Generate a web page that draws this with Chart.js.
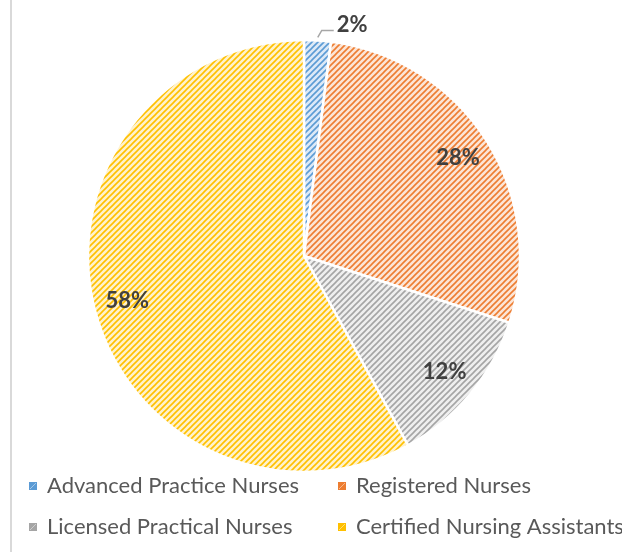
<!DOCTYPE html>
<html>
<head>
<meta charset="utf-8">
<script src="https://cdn.jsdelivr.net/npm/chart.js@4.4.1/dist/chart.umd.min.js"></script>
<style>
  html, body { margin: 0; padding: 0; background: #fff; }
  #wrap { position: relative; width: 622px; height: 552px; }
  #edge { position: absolute; left: 10px; top: 0; width: 2px; height: 552px; background: #d9d9d9; }
  canvas { position: absolute; left: 0; top: 0; }
</style>
</head>
<body>
<div id="wrap">
  <div id="edge"></div>
  <canvas id="pie" width="622" height="552"></canvas>
</div>
<script>
// Datos del gráfico
const categories = ['Advanced Practice Nurses', 'Registered Nurses', 'Licensed Practical Nurses', 'Certified Nursing Assistants'];
const shares = [2, 28, 12, 58];
const lineColors = ['#5b9bd5', '#ed7d31', '#a5a5a5', '#ffc000'];
const tintColors = ['#dde9f6', '#fce5d6', '#efefef', '#fff2cc'];

const ctx = document.getElementById('pie').getContext('2d');

// Trama de rayas diagonales (estilo Excel)
function hatch(line, tint) {
  const c = document.createElement('canvas');
  c.width = 6; c.height = 6;
  const g = c.getContext('2d');
  g.fillStyle = tint;
  g.fillRect(0, 0, 6, 6);
  g.strokeStyle = line;
  g.lineWidth = 1.6;
  g.beginPath();
  g.moveTo(-1, 7); g.lineTo(7, -1);
  g.moveTo(-1, 1); g.lineTo(1, -1);
  g.moveTo(5, 7); g.lineTo(7, 5);
  g.stroke();
  return ctx.createPattern(c, 'repeat');
}
const fills = lineColors.map((c, i) => hatch(c, tintColors[i]));

// Etiquetas de porcentaje sobre cada porción
const sliceLabels = {
  id: 'sliceLabels',
  afterDatasetsDraw(chart) {
    const c = chart.ctx;
    const arcs = chart.getDatasetMeta(0).data;
    c.save();
    c.font = 'bold 22px Lato';
    c.fillStyle = '#404040';
    arcs.forEach((arc, i) => {
      const p = arc.getProps(['x', 'y', 'startAngle', 'endAngle', 'outerRadius'], true);
      const mid = (p.startAngle + p.endAngle) / 2;
      const text = shares[i] + '%';
      if (shares[i] < 5) {
        // porción pequeña: etiqueta fuera con línea guía
        const sx = p.x + Math.cos(mid) * (p.outerRadius + 3);
        const sy = p.y + Math.sin(mid) * (p.outerRadius + 3);
        const ex = sx + 4, ey = sy - 7;
        c.strokeStyle = '#a6a6a6';
        c.lineWidth = 1.5;
        c.beginPath();
        c.moveTo(sx, sy); c.lineTo(ex, ey); c.lineTo(ex + 12, ey);
        c.stroke();
        c.textAlign = 'left';
        c.textBaseline = 'alphabetic';
        c.fillText(text, ex + 15, ey + 1.5);
      } else {
        const r = p.outerRadius * 0.845;
        c.textAlign = 'center';
        c.textBaseline = 'middle';
        c.fillText(text, p.x + Math.cos(mid) * r, p.y + Math.sin(mid) * r);
      }
    });
    c.restore();
  }
};

// Leyenda en dos columnas
const gridLegend = {
  id: 'gridLegend',
  afterDraw(chart) {
    const c = chart.ctx;
    const colX = [29, 338];
    const rowY = [486, 527];
    c.save();
    c.font = '22px Lato';
    c.textAlign = 'left';
    c.textBaseline = 'middle';
    categories.forEach((name, i) => {
      const x = colX[i % 2], y = rowY[Math.floor(i / 2)];
      c.fillStyle = lineColors[i];
      c.fillRect(x, y - 4, 8, 8);
      c.strokeStyle = 'rgba(255,255,255,0.45)';
      c.lineWidth = 1;
      c.beginPath();
      c.moveTo(x + 1, y + 3); c.lineTo(x + 7, y - 3);
      c.stroke();
      c.fillStyle = '#595959';
      c.fillText(name, x + 18, y);
    });
    c.restore();
  }
};

new Chart(ctx, {
  type: 'pie',
  data: {
    labels: categories,
    datasets: [{
      data: shares,
      backgroundColor: fills,
      borderColor: '#ffffff',
      borderWidth: 2.5,
      radius: 216
    }]
  },
  options: {
    responsive: false,
    animation: false,
    layout: { padding: { left: 88, right: 102, top: 40, bottom: 80 } },
    plugins: {
      legend: { display: false },
      tooltip: { enabled: false }
    }
  },
  plugins: [sliceLabels, gridLegend]
});
</script>
</body>
</html>
